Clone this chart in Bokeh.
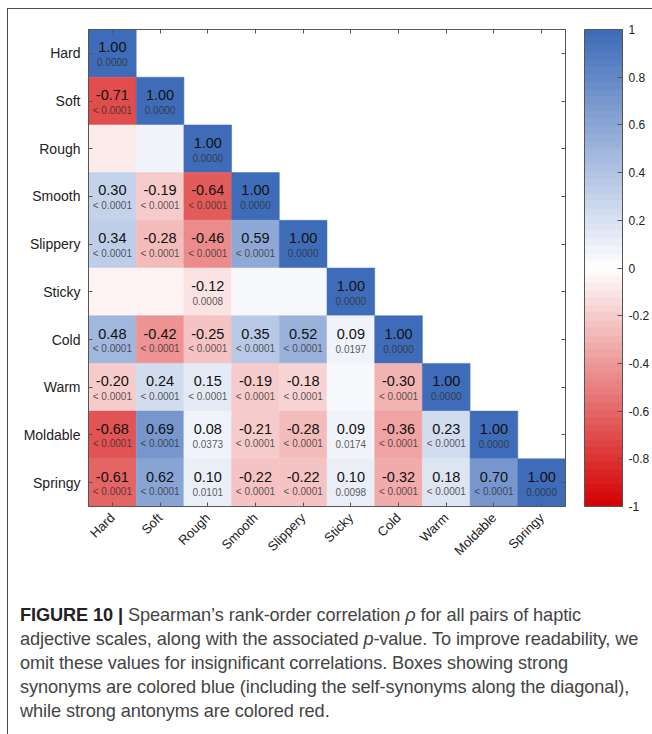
import numpy as np
from bokeh.plotting import figure
from bokeh.models import (ColumnDataSource, LinearColorMapper, ColorBar, FixedTicker,
                          CategoricalAxis, CustomJSTickFormatter, Div)
from bokeh.layouts import column
from bokeh.transform import transform
from bokeh.core.properties import value
from bokeh.embed import file_html
from bokeh.resources import INLINE

# Haptic adjective scales (rows and columns of the lower-triangular matrix)
adjectives = ["Hard", "Soft", "Rough", "Smooth", "Slippery",
              "Sticky", "Cold", "Warm", "Moldable", "Springy"]

# Spearman's rho, lower triangle, row by row
rho_rows = [
    [1.00],
    [-0.71, 1.00],
    [-0.07, 0.07, 1.00],
    [0.30, -0.19, -0.64, 1.00],
    [0.34, -0.28, -0.46, 0.59, 1.00],
    [-0.04, -0.04, -0.12, 0.05, 0.05, 1.00],
    [0.48, -0.42, -0.25, 0.35, 0.52, 0.09, 1.00],
    [-0.20, 0.24, 0.15, -0.19, -0.18, 0.05, -0.30, 1.00],
    [-0.68, 0.69, 0.08, -0.21, -0.28, 0.09, -0.36, 0.23, 1.00],
    [-0.61, 0.62, 0.10, -0.22, -0.22, 0.10, -0.32, 0.18, 0.70, 1.00],
]

# Associated p-values; None marks an insignificant correlation (no text shown)
L = "< 0.0001"
p_rows = [
    ["0.0000"],
    [L, "0.0000"],
    [None, None, "0.0000"],
    [L, L, L, "0.0000"],
    [L, L, L, L, "0.0000"],
    [None, None, "0.0008", None, None, "0.0000"],
    [L, L, L, L, L, "0.0197", "0.0000"],
    [L, L, L, L, L, None, L, "0.0000"],
    [L, L, "0.0373", L, L, "0.0174", L, L, "0.0000"],
    [L, L, "0.0101", L, L, "0.0098", L, L, L, "0.0000"],
]

colorbar_ticks = [-1, -0.8, -0.6, -0.4, -0.2, 0, 0.2, 0.4, 0.6, 0.8, 1]

# Diverging red-white-blue map in 64 steps
RED_END = (212, 0, 0)
BLUE_END = (60, 106, 184)


def shade(v):
    end = RED_END if v < 0 else BLUE_END
    t = abs(v)
    r, g, b = (round(255 + (e - 255) * t) for e in end)
    return f"#{r:02x}{g:02x}{b:02x}"


n_steps = 64
palette = [shade(-1 + (k + 0.5) * 2 / n_steps) for k in range(n_steps)]
mapper = LinearColorMapper(palette=palette, low=-1, high=1)

cells = dict(x=[], y=[], rho=[])
labels = dict(x=[], y=[], rho_txt=[], p_txt=[])
for i, (rrow, prow) in enumerate(zip(rho_rows, p_rows)):
    for j, (r, pv) in enumerate(zip(rrow, prow)):
        cells["x"].append(adjectives[j])
        cells["y"].append(adjectives[i])
        cells["rho"].append(r)
        if pv is not None:
            labels["x"].append(adjectives[j])
            labels["y"].append(adjectives[i])
            labels["rho_txt"].append(f"{r:.2f}")
            labels["p_txt"].append(pv)

cell_src = ColumnDataSource(cells)
label_src = ColumnDataSource(labels)

FONT = "Liberation Sans"
AXIS_GRAY = "#555555"

p = figure(x_range=adjectives, y_range=list(reversed(adjectives)),
           frame_width=477, frame_height=477,
           min_border_left=80, min_border_top=20, min_border_right=86,
           min_border_bottom=80,
           toolbar_location=None, tools="", output_backend="svg",
           background_fill_color="white", border_fill_color="white")

p.rect(x="x", y="y", width=1, height=1, source=cell_src,
       fill_color=transform("rho", mapper),
       line_color=transform("rho", mapper), line_width=0.5)

p.text(x="x", y="y", text="rho_txt", source=label_src, y_offset=-6,
       text_align="center", text_baseline="middle",
       text_font=value(FONT), text_font_size="14.5px", text_color="#111111")
p.text(x="x", y="y", text="p_txt", source=label_src, y_offset=9,
       text_align="center", text_baseline="middle",
       text_font=value(FONT), text_font_size="10px",
       text_color="#2e2e2e", text_alpha=0.8)

p.grid.visible = False
p.outline_line_color = AXIS_GRAY
p.outline_line_width = 1

for ax in (p.xaxis[0], p.yaxis[0]):
    ax.major_tick_in = 4
    ax.major_tick_out = 0
    ax.major_tick_line_color = AXIS_GRAY
    ax.axis_line_color = AXIS_GRAY
    ax.major_label_text_font = FONT
    ax.major_label_text_color = "#222222"

p.yaxis.major_label_text_font_size = "14px"
p.yaxis.major_label_standoff = 8
p.xaxis.major_label_text_font_size = "13px"
p.xaxis.major_label_orientation = np.pi / 4
p.xaxis.major_label_standoff = 9

# Box axes on top and right carry only the inward tick marks
for side in ("above", "right"):
    ax = CategoricalAxis(major_tick_in=4, major_tick_out=0,
                         major_tick_line_color=AXIS_GRAY,
                         axis_line_color=AXIS_GRAY,
                         major_label_text_font_size="1px",
                         major_label_text_color=None,
                         major_label_standoff=0)
    p.add_layout(ax, side)

cb = ColorBar(color_mapper=mapper,
              ticker=FixedTicker(ticks=colorbar_ticks),
              formatter=CustomJSTickFormatter(code="return String(Math.round(tick * 10) / 10);"),
              width=38, height=477, padding=0, margin=0,
              location=(19, 0),
              bar_line_color=AXIS_GRAY, bar_line_width=1,
              major_tick_in=5, major_tick_out=0,
              major_tick_line_color=AXIS_GRAY,
              label_standoff=6,
              major_label_text_font=FONT,
              major_label_text_font_size="12px",
              major_label_text_color="#222222",
              border_line_color=None, background_fill_color=None)
p.add_layout(cb, "right")

caption_html = (
    "<b style='color:#222'>FIGURE 10 |</b> Spearman\u2019s rank-order correlation "
    "<i>\u03c1</i> for all pairs of haptic<br>"
    "adjective scales, along with the associated <i>p</i>-value. To improve readability, we<br>"
    "omit these values for insignificant correlations. Boxes showing strong<br>"
    "synonyms are colored blue (including the self-synonyms along the diagonal),<br>"
    "while strong antonyms are colored red."
)
caption = Div(text=caption_html, width=640, height=150,
              styles={"font-family": FONT, "font-size": "18.2px",
                      "line-height": "24px", "color": "#444444",
                      "white-space": "nowrap", "padding-left": "7px",
                      "padding-top": "12px", "letter-spacing": "-0.1px"})

layout = column(p, caption,
                styles={"border-top": "1.5px solid #4a4a4a",
                        "border-left": "1.5px solid #4a4a4a"},
                margin=(8, 0, 0, 7))

open("out.html", "w").write(file_html(layout, INLINE))
